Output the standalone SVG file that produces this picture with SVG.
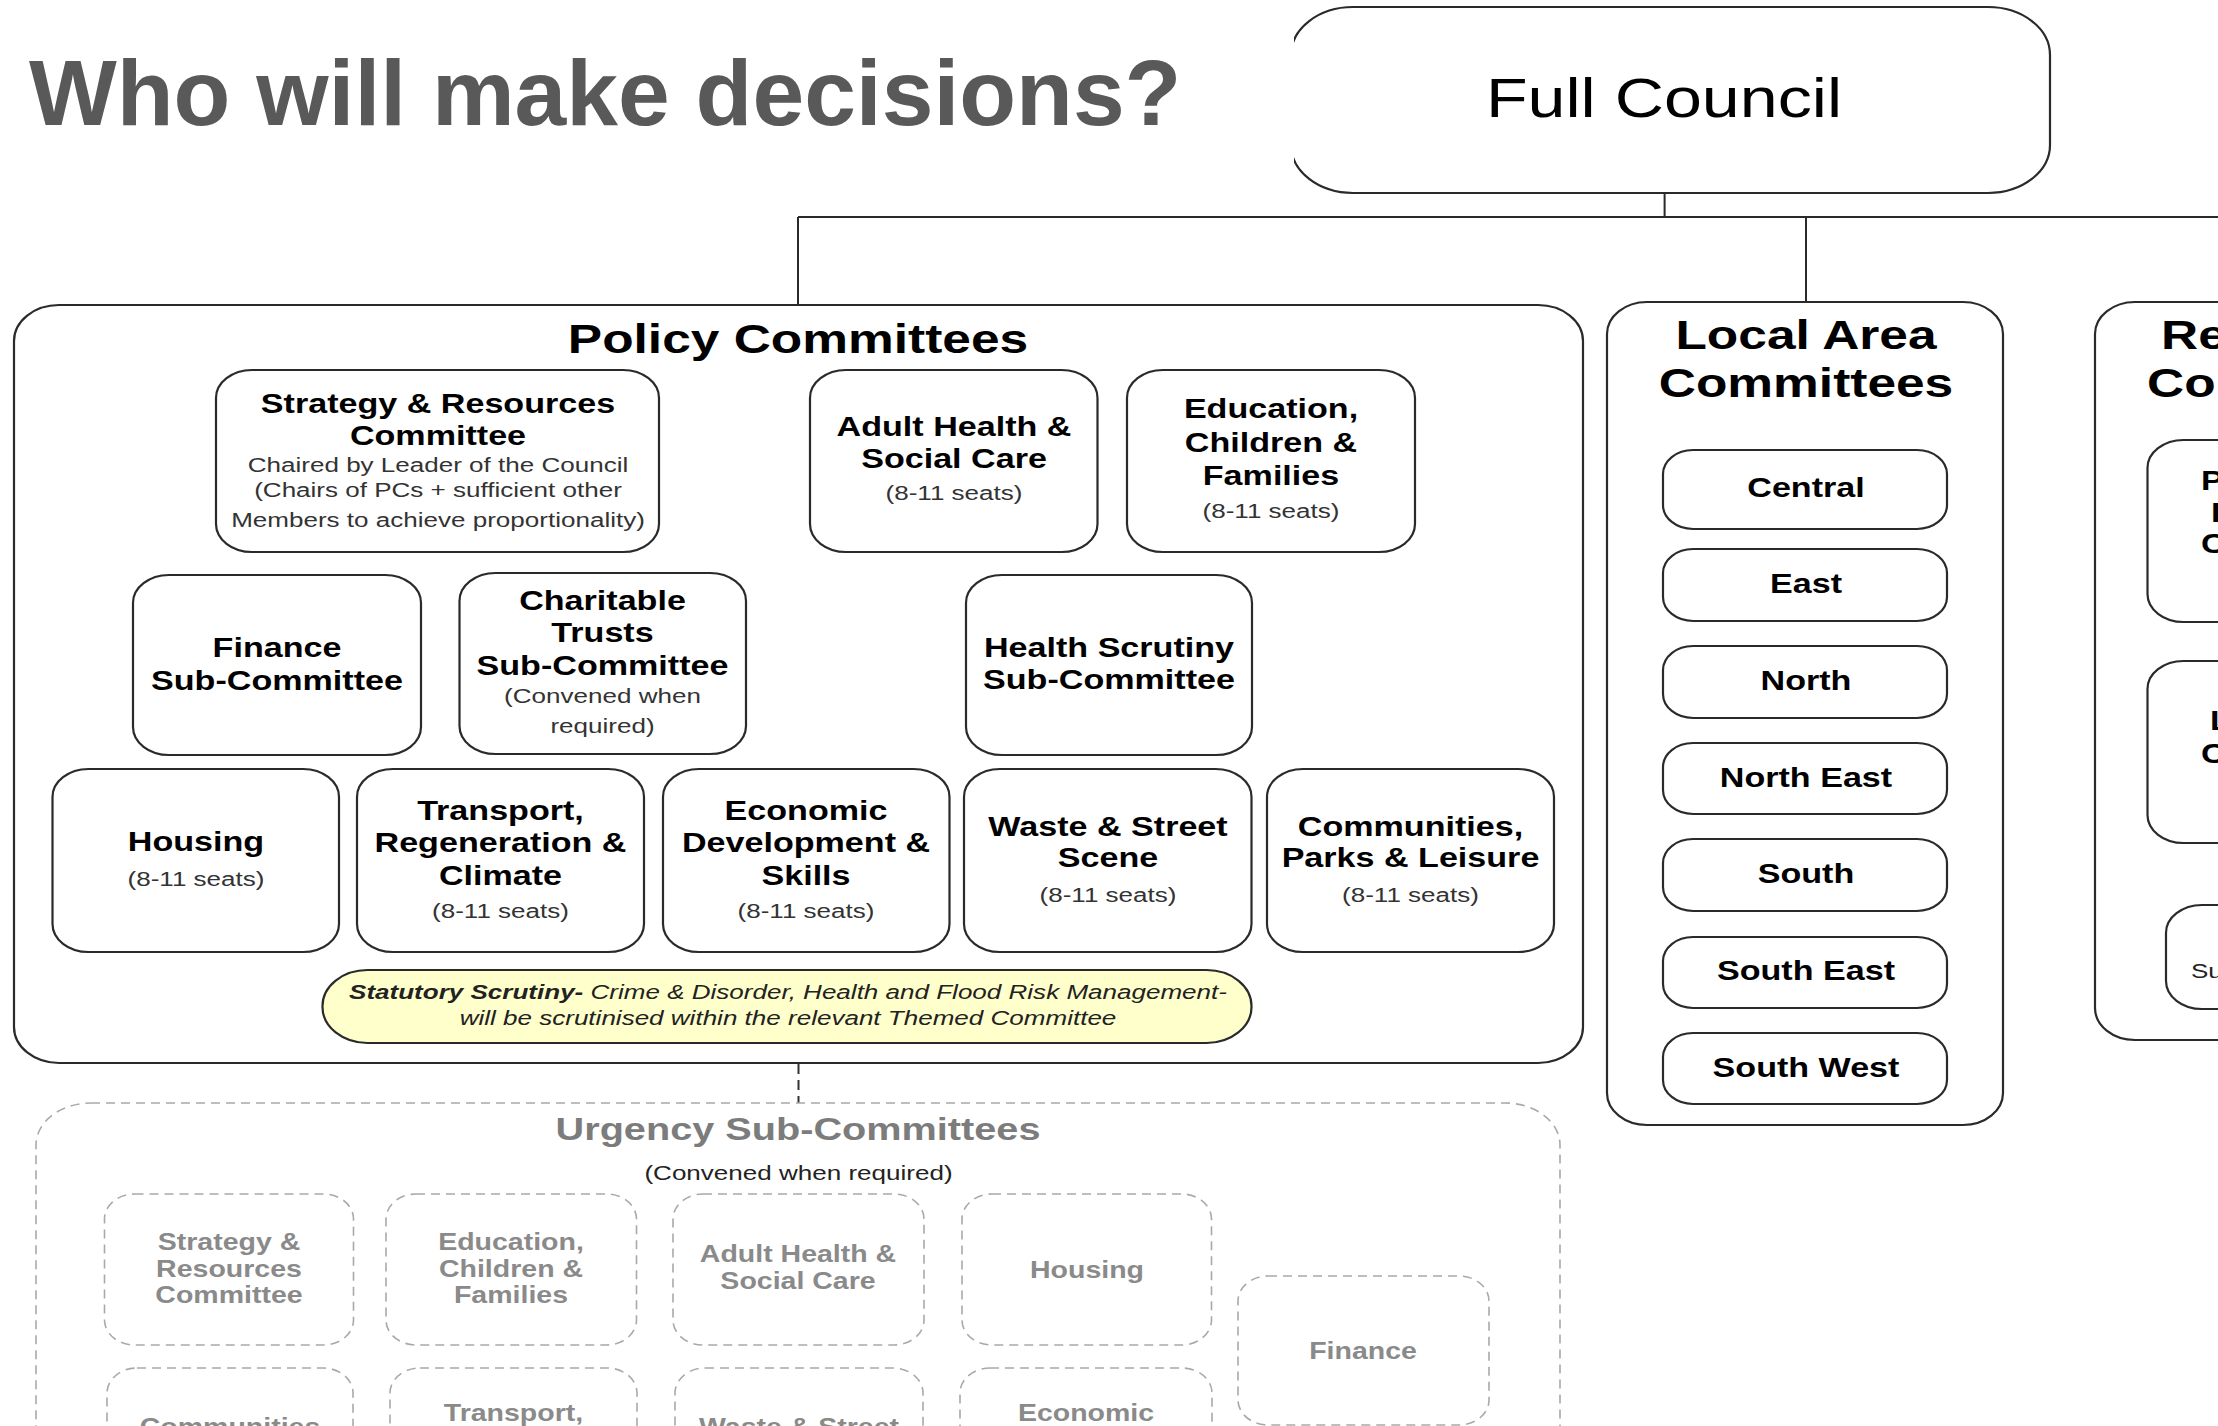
<svg xmlns="http://www.w3.org/2000/svg" width="2218" height="1426" viewBox="0 0 2218 1426">
<defs>
<style>
.bx{fill:#fff;stroke:#2a2a2a;stroke-width:2.2}
.ln{fill:none;stroke:#2a2a2a;stroke-width:2}
.dl{fill:none;stroke:#555;stroke-width:2;stroke-dasharray:10 6}
.ud{fill:none;stroke:#a9a9a9;stroke-width:1.6;stroke-dasharray:9 6}
.t{font-family:"Liberation Sans",Arial,Helvetica,sans-serif;text-anchor:middle}
.st{font-family:"Liberation Sans",Arial,Helvetica,sans-serif;text-anchor:start}
.b{font-weight:bold;font-size:27.5px;fill:#000}
.h{font-weight:bold;font-size:41.5px;fill:#000}
.s{font-size:21px;fill:#333}
.ug{font-weight:bold;font-size:23px;fill:#8a8a8a}
.ut{font-weight:bold;font-size:32px;fill:#7c7c7c}
.it{font-style:italic;font-size:21px;fill:#222}
</style>
<clipPath id="fcclip"><rect x="1294" y="0" width="924" height="300"/></clipPath>
</defs>
<rect width="2218" height="1426" fill="#fff"/>

<text x="29" y="125" font-family="'Liberation Sans',Arial,sans-serif" font-weight="bold" font-size="93" fill="#595959">Who will make decisions?</text>

<g id="full-council">
<rect class="bx" x="1291" y="7" width="759" height="186" rx="62" ry="48" clip-path="url(#fcclip)"/>
<text class="t" font-size="55" fill="#000" transform="translate(1664 0) scale(1.24 1)"><tspan x="0" y="117">Full Council</tspan></text>
</g>

<g id="connectors">
<path class="ln" d="M1664.6 193V217M798 217H2218M798 217V305M1806 217V302"/>
<path class="ln" d="M439 552V564M277 564H603M277 564V575M603 564V573"/>
<path class="ln" d="M954 552V564H1108M1108 564V575M1270.5 552V564"/>
<path class="dl" d="M1108 564H1270.5" stroke="#666"/>
<path class="dl" d="M798.5 1064V1103" style="stroke:#333"/>
</g>

<g id="policy-committees">
<rect class="bx" x="14" y="305" width="1569" height="758" rx="45" ry="36"/>
<text class="t h" transform="translate(798 0) scale(1.24 1)"><tspan x="0" y="353">Policy Committees</tspan></text>
</g>

<g id="strategy-resources">
<rect class="bx" x="216" y="370" width="443" height="182" rx="36" ry="28"/>
<text class="t b" transform="translate(438 0) scale(1.24 1)"><tspan x="0" y="413">Strategy &amp; Resources</tspan><tspan x="0" y="445">Committee</tspan></text>
<text class="t s" transform="translate(438 0) scale(1.24 1)"><tspan x="0" y="472">Chaired by Leader of the Council</tspan><tspan x="0" y="497">(Chairs of PCs + sufficient other</tspan><tspan x="0" y="527">Members to achieve proportionality)</tspan></text>
</g>

<g id="finance-sub">
<rect class="bx" x="133" y="575" width="288" height="180" rx="36" ry="28"/>
<text class="t b" transform="translate(277 0) scale(1.24 1)"><tspan x="0" y="657">Finance</tspan><tspan x="0" y="690">Sub-Committee</tspan></text>
</g>

<g id="charitable-trusts">
<rect class="bx" x="459.5" y="573" width="286.5" height="181" rx="36" ry="28"/>
<text class="t b" transform="translate(602.5 0) scale(1.24 1)"><tspan x="0" y="610">Charitable</tspan><tspan x="0" y="642">Trusts</tspan><tspan x="0" y="675">Sub-Committee</tspan></text>
<text class="t s" transform="translate(602.5 0) scale(1.24 1)"><tspan x="0" y="703">(Convened when</tspan><tspan x="0" y="733">required)</tspan></text>
</g>

<g id="adult-health">
<rect class="bx" x="810" y="370" width="287.5" height="182" rx="36" ry="28"/>
<text class="t b" transform="translate(954 0) scale(1.24 1)"><tspan x="0" y="436">Adult Health &amp;</tspan><tspan x="0" y="468">Social Care</tspan></text>
<text class="t s" transform="translate(954 0) scale(1.24 1)"><tspan x="0" y="500">(8-11 seats)</tspan></text>
</g>

<g id="education">
<rect class="bx" x="1127" y="370" width="288" height="182" rx="36" ry="28"/>
<text class="t b" transform="translate(1271 0) scale(1.24 1)"><tspan x="0" y="418">Education,</tspan><tspan x="0" y="452">Children &amp;</tspan><tspan x="0" y="485">Families</tspan></text>
<text class="t s" transform="translate(1271 0) scale(1.24 1)"><tspan x="0" y="518">(8-11 seats)</tspan></text>
</g>

<g id="health-scrutiny">
<rect class="bx" x="966" y="575" width="286" height="180" rx="36" ry="28"/>
<text class="t b" transform="translate(1109 0) scale(1.24 1)"><tspan x="0" y="657">Health Scrutiny</tspan><tspan x="0" y="689">Sub-Committee</tspan></text>
</g>

<g id="housing">
<rect class="bx" x="52.5" y="769" width="286.5" height="183" rx="36" ry="28"/>
<text class="t b" transform="translate(196 0) scale(1.24 1)"><tspan x="0" y="851">Housing</tspan></text>
<text class="t s" transform="translate(196 0) scale(1.24 1)"><tspan x="0" y="886">(8-11 seats)</tspan></text>
</g>

<g id="transport">
<rect class="bx" x="357" y="769" width="287" height="183" rx="36" ry="28"/>
<text class="t b" transform="translate(500.5 0) scale(1.24 1)"><tspan x="0" y="820">Transport,</tspan><tspan x="0" y="852">Regeneration &amp;</tspan><tspan x="0" y="885">Climate</tspan></text>
<text class="t s" transform="translate(500.5 0) scale(1.24 1)"><tspan x="0" y="918">(8-11 seats)</tspan></text>
</g>

<g id="economic">
<rect class="bx" x="663" y="769" width="286.5" height="183" rx="36" ry="28"/>
<text class="t b" transform="translate(806 0) scale(1.24 1)"><tspan x="0" y="820">Economic</tspan><tspan x="0" y="852">Development &amp;</tspan><tspan x="0" y="885">Skills</tspan></text>
<text class="t s" transform="translate(806 0) scale(1.24 1)"><tspan x="0" y="918">(8-11 seats)</tspan></text>
</g>

<g id="waste">
<rect class="bx" x="964" y="769" width="287.5" height="183" rx="36" ry="28"/>
<text class="t b" transform="translate(1108 0) scale(1.24 1)"><tspan x="0" y="836">Waste &amp; Street</tspan><tspan x="0" y="867">Scene</tspan></text>
<text class="t s" transform="translate(1108 0) scale(1.24 1)"><tspan x="0" y="902">(8-11 seats)</tspan></text>
</g>

<g id="communities">
<rect class="bx" x="1267" y="769" width="287" height="183" rx="36" ry="28"/>
<text class="t b" transform="translate(1410.5 0) scale(1.24 1)"><tspan x="0" y="836">Communities,</tspan><tspan x="0" y="867">Parks &amp; Leisure</tspan></text>
<text class="t s" transform="translate(1410.5 0) scale(1.24 1)"><tspan x="0" y="902">(8-11 seats)</tspan></text>
</g>

<g id="statutory-scrutiny">
<rect x="322.5" y="970" width="929" height="73" rx="45" ry="36" fill="#ffffcc" stroke="#2a2a2a" stroke-width="2.2"/>
<text class="t it" transform="translate(788 0) scale(1.24 1)"><tspan x="0" y="999"><tspan font-weight="bold">Statutory Scrutiny-</tspan> Crime &amp; Disorder, Health and Flood Risk Management-</tspan><tspan x="0" y="1025">will be scrutinised within the relevant Themed Committee</tspan></text>
</g>

<g id="local-area-committees">
<rect class="bx" x="1607" y="302" width="396" height="823" rx="40" ry="32"/>
<text class="t h" transform="translate(1806 0) scale(1.24 1)"><tspan x="0" y="349">Local Area</tspan><tspan x="0" y="397">Committees</tspan></text>
</g>
<g id="central"><rect class="bx" x="1663" y="450" width="284" height="79" rx="30" ry="24"/><text class="t b" transform="translate(1806 0) scale(1.24 1)"><tspan x="0" y="497">Central</tspan></text></g>
<g id="east"><rect class="bx" x="1663" y="549" width="284" height="72" rx="30" ry="24"/><text class="t b" transform="translate(1806 0) scale(1.24 1)"><tspan x="0" y="593">East</tspan></text></g>
<g id="north"><rect class="bx" x="1663" y="646" width="284" height="72" rx="30" ry="24"/><text class="t b" transform="translate(1806 0) scale(1.24 1)"><tspan x="0" y="690">North</tspan></text></g>
<g id="north-east"><rect class="bx" x="1663" y="743" width="284" height="71" rx="30" ry="24"/><text class="t b" transform="translate(1806 0) scale(1.24 1)"><tspan x="0" y="787">North East</tspan></text></g>
<g id="south"><rect class="bx" x="1663" y="839" width="284" height="72" rx="30" ry="24"/><text class="t b" transform="translate(1806 0) scale(1.24 1)"><tspan x="0" y="883">South</tspan></text></g>
<g id="south-east"><rect class="bx" x="1663" y="937" width="284" height="71" rx="30" ry="24"/><text class="t b" transform="translate(1806 0) scale(1.24 1)"><tspan x="0" y="980">South East</tspan></text></g>
<g id="south-west"><rect class="bx" x="1663" y="1033" width="284" height="71" rx="30" ry="24"/><text class="t b" transform="translate(1806 0) scale(1.24 1)"><tspan x="0" y="1077">South West</tspan></text></g>

<g id="regulatory">
<rect class="bx" x="2095" y="302" width="400" height="738" rx="40" ry="32"/>
<text class="st h" transform="translate(2161 349) scale(1.24 1)">Re</text>
<text class="st h" transform="translate(2147 397) scale(1.24 1)">Co</text>
</g>
<g id="regulatory-1">
<rect class="bx" x="2147.5" y="440" width="300" height="182" rx="36" ry="28"/>
<text class="st b" transform="translate(2201 490) scale(1.24 1)">P</text>
<text class="st b" transform="translate(2211 522) scale(1.24 1)">H</text>
<text class="st b" transform="translate(2201 553) scale(1.24 1)">C</text>
</g>
<g id="regulatory-2">
<rect class="bx" x="2147.5" y="661" width="300" height="182" rx="36" ry="28"/>
<text class="st b" transform="translate(2210 730) scale(1.24 1)">L</text>
<text class="st b" transform="translate(2201 763) scale(1.24 1)">C</text>
</g>
<g id="regulatory-3">
<rect class="bx" x="2166" y="905" width="300" height="104" rx="36" ry="28"/>
<text class="st" font-size="21" fill="#222" transform="translate(2191 978) scale(1.24 1)">Su</text>
</g>

<g id="urgency-sub-committees">
<rect class="ud" x="36" y="1103" width="1524" height="500" rx="55" ry="42"/>
<text class="t ut" transform="translate(798 0) scale(1.24 1)"><tspan x="0" y="1140">Urgency Sub-Committees</tspan></text>
<text class="t s" fill="#222" style="fill:#222" transform="translate(798.5 0) scale(1.24 1)"><tspan x="0" y="1180">(Convened when required)</tspan></text>
</g>
<g id="u-strategy"><rect class="ud" x="104.5" y="1194" width="249" height="151" rx="30" ry="25"/><text class="t ug" transform="translate(229 0) scale(1.24 1)"><tspan x="0" y="1250">Strategy &amp;</tspan><tspan x="0" y="1277">Resources</tspan><tspan x="0" y="1303">Committee</tspan></text></g>
<g id="u-education"><rect class="ud" x="386" y="1194" width="250.5" height="151" rx="30" ry="25"/><text class="t ug" transform="translate(511 0) scale(1.24 1)"><tspan x="0" y="1250">Education,</tspan><tspan x="0" y="1277">Children &amp;</tspan><tspan x="0" y="1303">Families</tspan></text></g>
<g id="u-adult"><rect class="ud" x="673" y="1194" width="251" height="151" rx="30" ry="25"/><text class="t ug" transform="translate(798 0) scale(1.24 1)"><tspan x="0" y="1262">Adult Health &amp;</tspan><tspan x="0" y="1289">Social Care</tspan></text></g>
<g id="u-housing"><rect class="ud" x="962" y="1194" width="249.5" height="151" rx="30" ry="25"/><text class="t ug" transform="translate(1087 0) scale(1.24 1)"><tspan x="0" y="1278">Housing</tspan></text></g>
<g id="u-finance"><rect class="ud" x="1238" y="1276" width="251" height="149" rx="30" ry="25"/><text class="t ug" transform="translate(1363 0) scale(1.24 1)"><tspan x="0" y="1359">Finance</tspan></text></g>
<g id="u-communities"><rect class="ud" x="107" y="1368" width="246" height="151" rx="30" ry="25"/><text class="t ug" transform="translate(230 0) scale(1.24 1)"><tspan x="0" y="1435">Communities</tspan></text></g>
<g id="u-transport"><rect class="ud" x="390" y="1368" width="247" height="151" rx="30" ry="25"/><text class="t ug" transform="translate(513.5 0) scale(1.24 1)"><tspan x="0" y="1421">Transport,</tspan></text></g>
<g id="u-waste"><rect class="ud" x="675" y="1368" width="248" height="151" rx="30" ry="25"/><text class="t ug" transform="translate(799 0) scale(1.24 1)"><tspan x="0" y="1435">Waste &amp; Street</tspan></text></g>
<g id="u-economic"><rect class="ud" x="960" y="1368" width="252" height="151" rx="30" ry="25"/><text class="t ug" transform="translate(1086 0) scale(1.24 1)"><tspan x="0" y="1421">Economic</tspan></text></g>
</svg>
